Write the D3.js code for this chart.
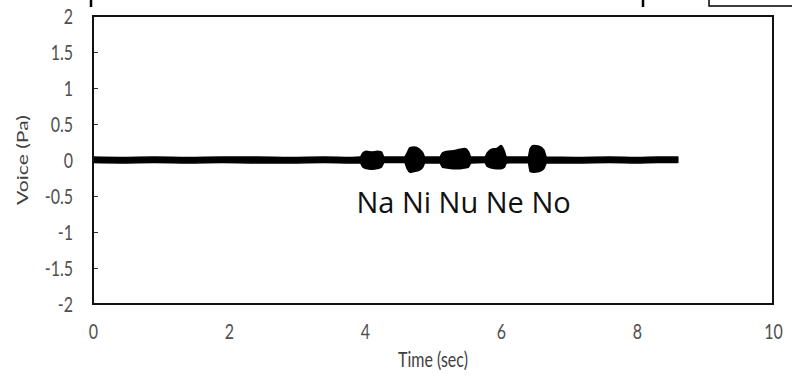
<!DOCTYPE html>
<html>
<head>
<meta charset="utf-8">
<script src="https://cdn.jsdelivr.net/npm/d3@7"></script>
<style>
  body { margin: 0; background: #fff; }
  svg { display: block; }
  text { font-family: Lato, "Open Sans", sans-serif; }
</style>
</head>
<body>
<svg id="chart" width="792" height="376"></svg>
<script>
// tick values
const xTicks = [0, 2, 4, 6, 8, 10];
const yTicks = [2, 1.5, 1, 0.5, 0, -0.5, -1, -1.5, -2];

const timeSec = [0, 0.4, 0.9, 1.4, 1.9, 2.4, 2.9, 3.4, 3.8,
  3.93, 3.97, 4.02, 4.1, 4.18, 4.24, 4.28,
  4.58, 4.62, 4.66, 4.72, 4.8, 4.85, 4.88,
  5.1, 5.14, 5.2, 5.3, 5.4, 5.47, 5.52, 5.56,
  5.76, 5.8, 5.86, 5.94, 6.0, 6.05, 6.08,
  6.4, 6.43, 6.48, 6.56, 6.63, 6.67,
  7.1, 7.6, 8.0, 8.3, 8.6];
const upperPa = [0.04, 0.035, 0.04, 0.035, 0.04, 0.04, 0.035, 0.04, 0.035,
  0.04, 0.1, 0.12, 0.11, 0.12, 0.11, 0.04,
  0.04, 0.1, 0.17, 0.18, 0.15, 0.1, 0.04,
  0.04, 0.1, 0.12, 0.13, 0.15, 0.16, 0.12, 0.04,
  0.04, 0.1, 0.15, 0.16, 0.2, 0.12, 0.04,
  0.04, 0.16, 0.2, 0.19, 0.14, 0.04,
  0.035, 0.04, 0.035, 0.04, 0.04];
const lowerPa = [-0.035, -0.04, -0.035, -0.04, -0.035, -0.04, -0.04, -0.035, -0.04,
  -0.04, -0.1, -0.12, -0.13, -0.12, -0.1, -0.035,
  -0.035, -0.12, -0.17, -0.16, -0.14, -0.1, -0.04,
  -0.04, -0.1, -0.11, -0.12, -0.12, -0.11, -0.1, -0.04,
  -0.035, -0.09, -0.11, -0.12, -0.12, -0.1, -0.04,
  -0.035, -0.16, -0.17, -0.16, -0.12, -0.04,
  -0.04, -0.035, -0.04, -0.035, -0.035];

const syllables = "Na Ni Nu Ne No";

const margin = {left: 93, right: 19, top: 16, bottom: 72};
const width = 792 - margin.left - margin.right;
const height = 376 - margin.top - margin.bottom;
const stretch = 1.32; // the source picture is stretched vertically

const svg = d3.select("#chart");

// cropped bits of the original figure above the plot
svg.append("line").attr("x1", 91).attr("x2", 91).attr("y1", 0).attr("y2", 7)
  .attr("stroke", "#000").attr("stroke-width", 2.5);
svg.append("line").attr("x1", 643).attr("x2", 643).attr("y1", 0).attr("y2", 7)
  .attr("stroke", "#000").attr("stroke-width", 2.5);
svg.append("path").attr("d", "M709,0V6H792").attr("fill", "none")
  .attr("stroke", "#000").attr("stroke-width", 1.5);

const g = svg.append("g").attr("transform", `translate(${margin.left},${margin.top})`);

const x = d3.scaleLinear().domain([0, 10]).range([0, width]);
const y = d3.scaleLinear().domain([-2, 2]).range([height, 0]);

// y axis: inside ticks
const yAxis = g.append("g")
  .call(d3.axisLeft(y).tickValues(yTicks).tickSize(-5).tickPadding(20)
    .tickFormat(d => String(d)));
yAxis.select(".domain").remove();
yAxis.selectAll("line").attr("stroke", "#333").attr("stroke-width", 1);
yAxis.selectAll("text")
  .attr("fill", "#505050").attr("dy", null)
  .attr("transform", function() {
    const tx = d3.select(this).attr("x");
    return `translate(${tx},0) scale(1,${stretch}) translate(${-tx},0)`;
  })
  .attr("y", 0).attr("dominant-baseline", "central")
  .style("font-size", "16px");

// x axis: labels only
const xAxis = g.append("g").attr("transform", `translate(0,${height})`)
  .call(d3.axisBottom(x).tickValues(xTicks).tickSize(0).tickPadding(0));
xAxis.select(".domain").remove();
xAxis.selectAll("text")
  .attr("fill", "#505050").attr("dy", null).attr("y", 0)
  .attr("transform", `translate(0,35) scale(1,${stretch})`)
  .style("font-size", "16px");

// signal
const signal = timeSec.map((t, i) => ({t: t, hi: upperPa[i], lo: lowerPa[i]}));
g.append("path")
  .datum(signal)
  .attr("fill", "#000")
  .attr("stroke", "#000")
  .attr("stroke-width", 1.5)
  .attr("stroke-linejoin", "round")
  .attr("d", d3.area().x(d => x(d.t)).y0(d => y(d.lo)).y1(d => y(d.hi)).curve(d3.curveMonotoneX));

// plot frame
g.append("rect").attr("width", width).attr("height", height)
  .attr("fill", "none").attr("stroke", "#111").attr("stroke-width", 2);

g.append("text")
  .attr("x", x(5.45)).attr("y", y(-0.74))
  .attr("text-anchor", "middle")
  .attr("fill", "#111")
  .style("font-size", "29px")
  .style("font-family", "'Open Sans', sans-serif")
  .text(syllables);

svg.append("text")
  .attr("transform", `translate(${margin.left + width / 2},367) scale(1,${stretch})`)
  .attr("text-anchor", "middle").attr("fill", "#404040")
  .style("font-size", "16px")
  .text("Time (sec)");

svg.append("text")
  .attr("transform", `translate(28,${margin.top + height / 2}) rotate(-90) scale(${stretch},1)`)
  .attr("text-anchor", "middle").attr("fill", "#404040")
  .style("font-size", "16px")
  .text("Voice (Pa)");
</script>
</body>
</html>
